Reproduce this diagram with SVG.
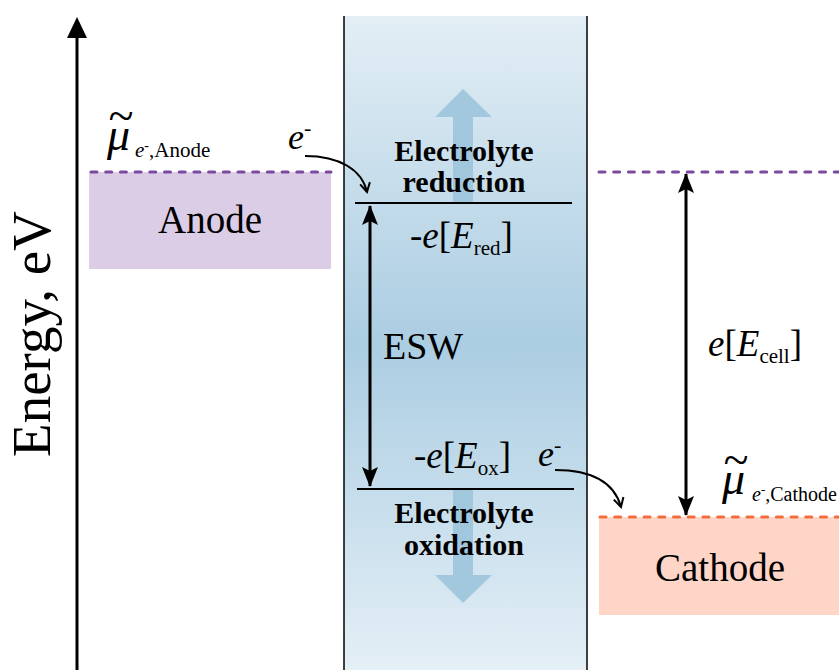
<svg xmlns="http://www.w3.org/2000/svg" width="839" height="670" viewBox="0 0 839 670" font-family="'Liberation Serif', 'Times New Roman', serif">
<defs>
<linearGradient id="elGrad" x1="0" y1="0" x2="0" y2="1">
<stop offset="0" stop-color="#e3eef5"/>
<stop offset="0.5" stop-color="#abcde2"/>
<stop offset="1" stop-color="#e4eff6"/>
</linearGradient>
<marker id="big" viewBox="0 0 20 20" refX="19" refY="10" markerWidth="20" markerHeight="20" markerUnits="userSpaceOnUse" orient="auto-start-reverse">
<path d="M0,2 L20,10 L0,18 L4,10 z" fill="#000"/>
</marker>
<marker id="open" viewBox="0 0 12 12" refX="10" refY="6" markerWidth="12" markerHeight="12" markerUnits="userSpaceOnUse" orient="auto">
<path d="M1,1 L10,6 L1,11" fill="none" stroke="#000" stroke-width="2"/>
</marker>
</defs>
<style>
text{font-family:'Liberation Serif','Times New Roman',serif;fill:#000}
.it{font-style:italic}
.up{font-style:normal}
.b{font-weight:bold}
.ln{stroke:#000;stroke-width:2;fill:none}
.thick{stroke:#000;stroke-width:3;fill:none}
.blue{fill:#9cc4dc;fill-opacity:0.9}
</style>

<g id="axis">
<line x1="77" y1="670" x2="77" y2="34" class="thick"/>
<path d="M77,17 L87,38 L67,38 z" fill="#000"/>
<text font-size="55" transform="translate(50,334) rotate(-90)" text-anchor="middle">Energy, eV</text>
</g>

<g id="electrolyte">
<rect x="344" y="16" width="243" height="654" fill="url(#elGrad)"/>
<line x1="344" y1="16" x2="344" y2="670" stroke="#000" stroke-width="1.5"/>
<line x1="587" y1="16" x2="587" y2="670" stroke="#000" stroke-width="1.5"/>
<path class="blue" d="M463,89 L492,117 L473,117 L473,203 L453,203 L453,117 L435,117 z"/>
<path class="blue" d="M463,603 L492,575 L473,575 L473,489 L453,489 L453,575 L435,575 z"/>
<line x1="355" y1="203" x2="572" y2="203" class="ln"/>
<line x1="357" y1="489" x2="574" y2="489" class="ln"/>
<text class="b" font-size="30" x="464" y="161" text-anchor="middle">Electrolyte</text>
<text class="b" font-size="30" x="464" y="192" text-anchor="middle">reduction</text>
<text class="b" font-size="30" x="464" y="523" text-anchor="middle">Electrolyte</text>
<text class="b" font-size="30" x="464" y="555" text-anchor="middle">oxidation</text>
<text font-size="37" x="410" y="248">-<tspan class="it">e</tspan>[<tspan class="it">E</tspan><tspan font-size="21" dy="7">red</tspan><tspan dy="-7">]</tspan></text>
<text font-size="38" x="383" y="359">ESW</text>
<text font-size="37" x="414" y="468">-<tspan class="it">e</tspan>[<tspan class="it">E</tspan><tspan font-size="21" dy="7">ox</tspan><tspan dy="-7">]</tspan></text>
</g>

<g id="anode">
<rect x="89" y="172" width="242" height="97" fill="#dccde7"/>
<line x1="91" y1="172" x2="331" y2="172" stroke="#7a4aa0" stroke-width="3" stroke-dasharray="6,8.7" stroke-linecap="round"/>
<text font-size="39" x="210" y="233" text-anchor="middle">Anode</text>
<text class="it" font-size="46" x="107" y="150">μ<tspan dx="-22" dy="-19">~</tspan><tspan x="135" y="157" font-size="21">e</tspan><tspan class="up" dy="-7" font-size="14">-</tspan><tspan class="up" dy="7" font-size="21">,Anode</tspan></text>
<text class="it" font-size="36" x="288" y="149">e<tspan font-size="22" dy="-14">-</tspan></text>
</g>

<g id="cathode">
<rect x="599" y="517" width="240" height="98" fill="#fed5c7"/>
<line x1="600" y1="517" x2="839" y2="517" stroke="#f36c3c" stroke-width="3" stroke-dasharray="6,8.7" stroke-linecap="round"/>
<text font-size="39" x="720" y="581" text-anchor="middle">Cathode</text>
<text class="it" font-size="46" x="722" y="494">μ<tspan dx="-22" dy="-19">~</tspan><tspan x="752" y="501" font-size="20">e</tspan><tspan class="up" dy="-7" font-size="13">-</tspan><tspan class="up" dy="7" font-size="20">,Cathode</tspan></text>
<text class="it" font-size="36" x="538" y="466">e<tspan font-size="22" dy="-14">-</tspan></text>
</g>

<g id="right-level">
<line x1="599" y1="172" x2="839" y2="172" stroke="#7a4aa0" stroke-width="3" stroke-dasharray="6,8.7" stroke-linecap="round"/>
<text font-size="37" x="708" y="356"><tspan class="it">e</tspan>[<tspan class="it">E</tspan><tspan font-size="21" dy="7">cell</tspan><tspan dy="-7">]</tspan></text>
</g>

<g id="connectors">
<line x1="370" y1="206" x2="370" y2="486" class="thick" marker-start="url(#big)" marker-end="url(#big)"/>
<line x1="686" y1="174" x2="686" y2="515" class="thick" marker-start="url(#big)" marker-end="url(#big)"/>
<path d="M305,156 C340,156 362,170 367,192" class="ln" marker-end="url(#open)"/>
<path d="M555,470 C595,470 615,485 621,507" class="ln" marker-end="url(#open)"/>
</g>
</svg>
